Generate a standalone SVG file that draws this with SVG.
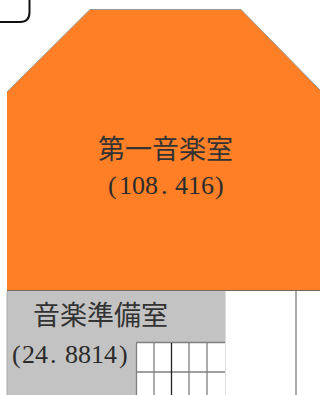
<svg xmlns="http://www.w3.org/2000/svg" width="320" height="395" viewBox="0 0 320 395">
<style>
.ja{font-family:"Noto Sans CJK JP",sans-serif;font-size:27px;fill:#333}
.num{font-family:"Liberation Serif",serif;font-size:26px;fill:#2b2b2b}
.ln{stroke:#808080;stroke-width:1.3;fill:none}
</style>
<rect width="320" height="395" fill="#fff"/>
<g id="corner-box"><path d="M0 22H20Q29.500 22 29.500 12V0" fill="none" stroke="#111" stroke-width="2"/></g>
<g id="room-1">
<path d="M7 92L90 9.500H241L320 90V290H7Z" fill="#FF7F27"/>
<path d="M7 92L90 9.500H241L320 90" fill="none" stroke="#999" stroke-width="1"/>
<text class="ja" x="98" y="159">第一音楽室</text>
<text class="num" y="194" x="108 119 132 145 161 175 188 201 215">(108.416)</text>
</g>
<g id="room-2">
<rect x="7" y="291" width="218" height="104" fill="#C3C3C3"/>
<text class="ja" x="33" y="325">音楽準備室</text>
<text class="num" y="363" x="12 22 35 50 65 78 91 104 119">(24.8814)</text>
</g>
<g id="grid">
<rect x="136" y="343" width="89" height="52" fill="#fff"/>
<path class="ln" d="M136.500 343V395M154 343V395M189 343V395M207 343V395M136 372H225M136 342.500H225"/>
<path d="M171.500 343V395" stroke="#222" stroke-width="1.300"/>
<path d="M225.500 291V395" stroke="#ddd" stroke-width="1"/>
</g>
<g id="connectors"><path d="M7 290.500H320" stroke="#7a6a5a" stroke-width="1"/><path class="ln" d="M296 291V395"/><path d="M7 291V395" stroke="#aaa" stroke-width="1"/></g>
</svg>
